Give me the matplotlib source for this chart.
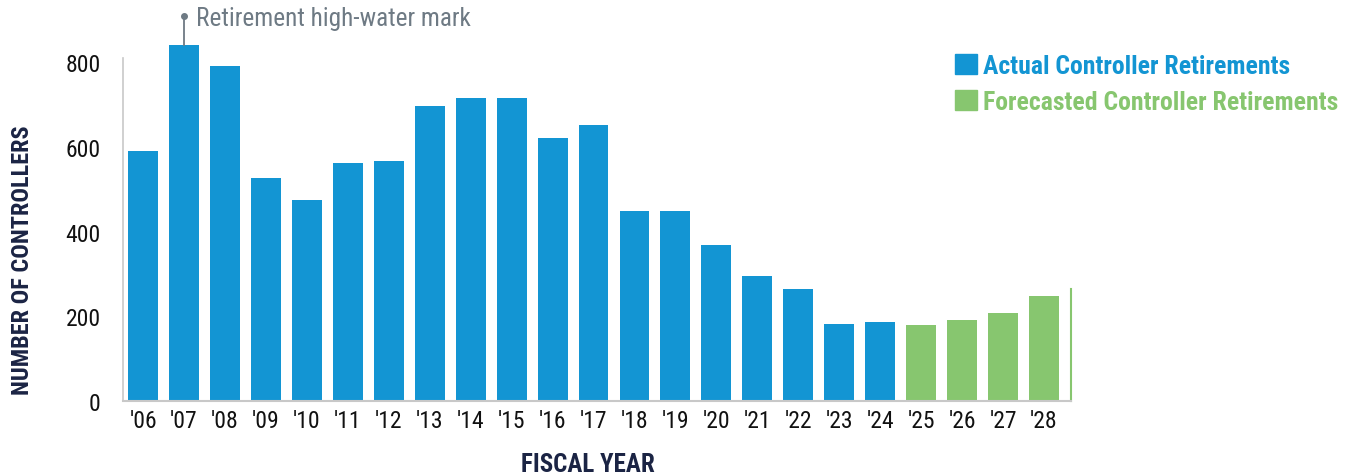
import matplotlib.pyplot as plt
import matplotlib.patches as mpatches

# ==================== Data ====================
years = ["'06", "'07", "'08", "'09", "'10", "'11", "'12", "'13", "'14", "'15", "'16",
         "'17", "'18", "'19", "'20", "'21", "'22", "'23", "'24", "'25", "'26", "'27", "'28"]
retirements = [590, 840, 790, 526, 474, 561, 566, 696, 715, 715, 620,
               651, 448, 448, 368, 295, 264, 182, 186, 179, 191, 208, 248]
is_forecast = [False] * 19 + [True] * 4
y_ticks = [0, 200, 400, 600, 800]

blue = '#1395d3'
green = '#87c66f'
navy = '#1b2444'
gray_text = '#6e7a84'

plt.rcParams['font.family'] = ['Roboto Condensed', 'DejaVu Sans']

# ==================== Figure ====================
fig = plt.figure(figsize=(13.46, 4.77), dpi=100)
ax = fig.add_axes([0.0914, 0.157, 0.7043, 0.72])

x = list(range(len(years)))
colors = [green if f else blue for f in is_forecast]
bars = ax.bar(x, retirements, width=0.73, color=colors, zorder=2)
for b in bars:
    b.set_clip_on(False)

ax.set_xlim(-0.49, len(years) - 1 + 0.66)
ax.set_ylim(0, 810)
ax.set_xticks(x)
ax.set_xticklabels(years, fontsize=17, color='#111111')
ax.set_yticks(y_ticks)
ax.set_yticklabels([str(v) for v in y_ticks], fontsize=17, color='#111111')
ax.tick_params(axis='both', length=0)
ax.tick_params(axis='y', pad=16)
ax.tick_params(axis='x', pad=6)

for side in ['top', 'right']:
    ax.spines[side].set_visible(False)
ax.spines['left'].set_color('#c8c8c8')
ax.spines['bottom'].set_color('#c8c8c8')
ax.spines['left'].set_linewidth(1.2)
ax.spines['bottom'].set_linewidth(1.5)

# thin green edge on the right end
ax.axvline(len(years) - 1 + 0.66, ymin=0, ymax=264 / 810, color=green, lw=1.5, clip_on=False)

# axis titles
fig.text(0.0165, 0.455, 'NUMBER OF CONTROLLERS', rotation=90, fontsize=17.5, fontweight='bold',
         color=navy, ha='center', va='center')
fig.text(0.437, 0.026, 'FISCAL YEAR', fontsize=18, fontweight='bold', color=navy,
         ha='center', va='center')

# ==================== High-water mark annotation ====================
peak = retirements.index(max(retirements))
ax.plot([peak, peak], [max(retirements), 908], color='#6e7a84', lw=1.3, clip_on=False)
ax.plot([peak], [908], marker='o', markersize=4, color='#6e7a84', clip_on=False)
ax.text(peak + 0.3, 904, 'Retirement high-water mark', fontsize=18.2, color=gray_text,
        va='center', ha='left', clip_on=False)

# ==================== Legend ====================
handles = [mpatches.Patch(color=blue, label='Actual Controller Retirements'),
           mpatches.Patch(color=green, label='Forecasted Controller Retirements')]
leg = ax.legend(handles=handles, loc='upper left', bbox_to_anchor=(0.7095, 0.885),
                bbox_transform=fig.transFigure, frameon=False, borderpad=0, borderaxespad=0,
                handlelength=0.85, handleheight=0.85, handletextpad=0.25,
                labelspacing=0.45, labelcolor=[blue, green],
                prop={'family': 'Roboto Condensed', 'size': 18.5, 'weight': 'bold'})

fig.savefig('out.png', dpi=100)
